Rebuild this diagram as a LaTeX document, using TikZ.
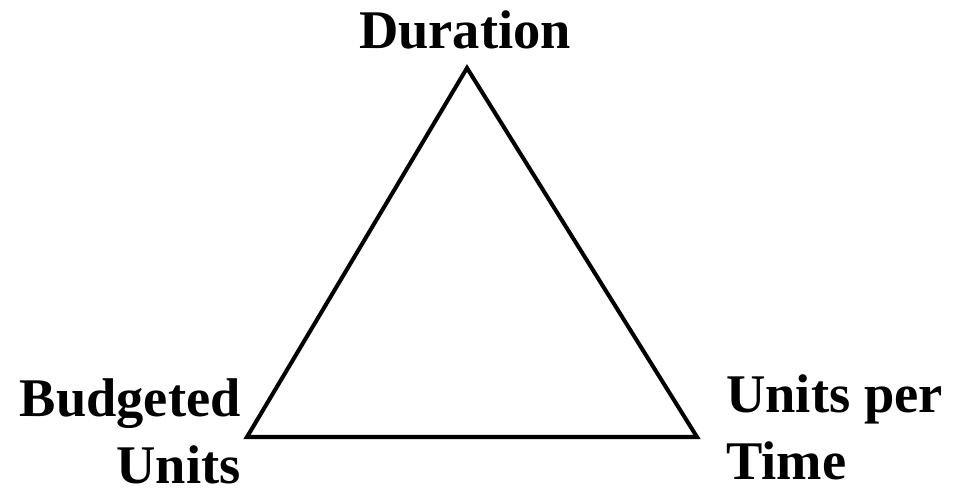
\documentclass[tikz,border=0pt]{standalone}
\usepackage{fontspec}
\setmainfont{Liberation Serif}
\usetikzlibrary{positioning}

\tikzset{
    corner/.style={font=\fontsize{31}{38.5}\selectfont\bfseries, inner sep=0pt}
}

\begin{document}
\begin{tikzpicture}[x=0.02cm, y=-0.02cm, node distance=0.36cm]

            \useasboundingbox (0,0) rectangle (961,492);

            \coordinate (dur) at (467,68);
            \coordinate (bud) at (247,437);
            \coordinate (upt) at (697,437);

            \draw[line width=2.3pt, line join=miter] (dur) -- (upt) -- (bud) -- cycle;

            \node[corner, above=of dur, xshift=-0.04cm] (duration) {Duration};

            % base of a two-line node is the last line
            \node[corner, anchor=base east, align=right] (budgeted) at (241,484) {Budgeted\\Units};

            \node[corner, anchor=base west, align=left] (unitsper) at (726,480) {Units per\\Time};

        \end{tikzpicture}
\end{document}
